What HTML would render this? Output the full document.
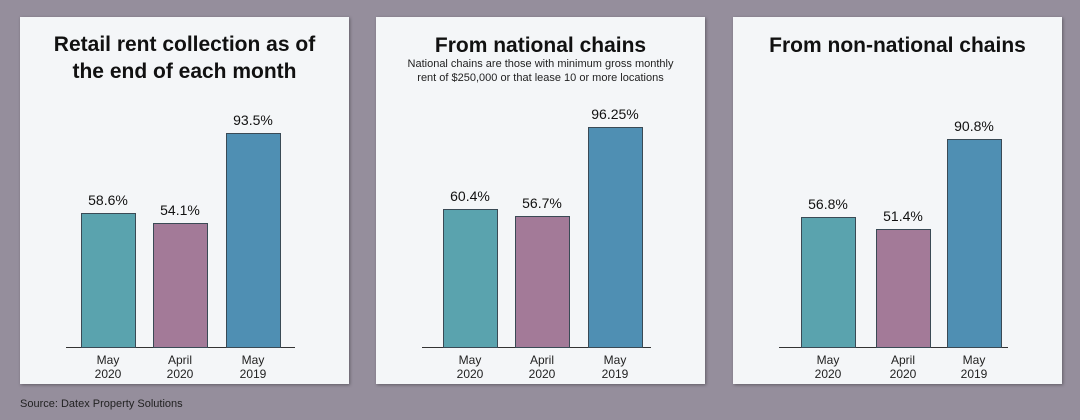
<!DOCTYPE html>
<html><head><meta charset="utf-8"><style>
body{margin:0;width:1080px;height:420px;background:#958e9c;font-family:"Liberation Sans",sans-serif;position:relative;overflow:hidden}
.p{position:absolute;top:17px;width:329px;height:367px;background:#f4f6f8;box-shadow:1px 1px 3px rgba(0,0,0,.35)}
.t{position:absolute;left:0;width:100%;text-align:center;font-weight:bold;font-size:21px;color:#111;line-height:27px}
.s{position:absolute;left:0;width:100%;text-align:center;font-size:11px;color:#222;line-height:14px}
.b{position:absolute;border:1px solid #3a4a55;box-sizing:border-box;width:55px}
.v{position:absolute;width:80px;text-align:center;font-size:14px;color:#111}
.c{position:absolute;width:80px;text-align:center;font-size:12px;color:#222;line-height:14px;top:336px}
.base{position:absolute;left:46px;width:229px;top:330px;height:1px;background:#333}
.src{position:absolute;left:20px;top:398px;font-size:11px;color:#222}
</style></head><body>
<div class="p" style="left:20px">
<div class="t" style="top:14px">Retail rent collection as of<br>the end of each month</div>
<div class="base"></div>
<div class="b" style="left:61px;top:196px;height:135px;background:#5aa3ae"></div>
<div class="b" style="left:133px;top:206px;height:125px;background:#a37a98"></div>
<div class="b" style="left:206px;top:116px;height:215px;background:#4f8fb3"></div>
<div class="v" style="left:48px;top:175px">58.6%</div>
<div class="v" style="left:120px;top:185px">54.1%</div>
<div class="v" style="left:193px;top:95px">93.5%</div>
<div class="c" style="left:48px">May<br>2020</div>
<div class="c" style="left:120px">April<br>2020</div>
<div class="c" style="left:193px">May<br>2019</div>
</div>
<div class="p" style="left:376px">
<div class="t" style="top:15px">From national chains</div>
<div class="s" style="top:40px">National chains are those with minimum gross monthly<br>rent of $250,000 or that lease 10 or more locations</div>
<div class="base"></div>
<div class="b" style="left:67px;top:192px;height:139px;background:#5aa3ae"></div>
<div class="b" style="left:139px;top:199px;height:132px;background:#a37a98"></div>
<div class="b" style="left:212px;top:110px;height:221px;background:#4f8fb3"></div>
<div class="v" style="left:54px;top:171px">60.4%</div>
<div class="v" style="left:126px;top:178px">56.7%</div>
<div class="v" style="left:199px;top:89px">96.25%</div>
<div class="c" style="left:54px">May<br>2020</div>
<div class="c" style="left:126px">April<br>2020</div>
<div class="c" style="left:199px">May<br>2019</div>
</div>
<div class="p" style="left:733px">
<div class="t" style="top:15px">From non-national chains</div>
<div class="base"></div>
<div class="b" style="left:68px;top:200px;height:131px;background:#5aa3ae"></div>
<div class="b" style="left:143px;top:212px;height:119px;background:#a37a98"></div>
<div class="b" style="left:214px;top:122px;height:209px;background:#4f8fb3"></div>
<div class="v" style="left:55px;top:179px">56.8%</div>
<div class="v" style="left:130px;top:191px">51.4%</div>
<div class="v" style="left:201px;top:101px">90.8%</div>
<div class="c" style="left:55px">May<br>2020</div>
<div class="c" style="left:130px">April<br>2020</div>
<div class="c" style="left:201px">May<br>2019</div>
</div>
<div class="src">Source: Datex Property Solutions</div>
</body></html>
